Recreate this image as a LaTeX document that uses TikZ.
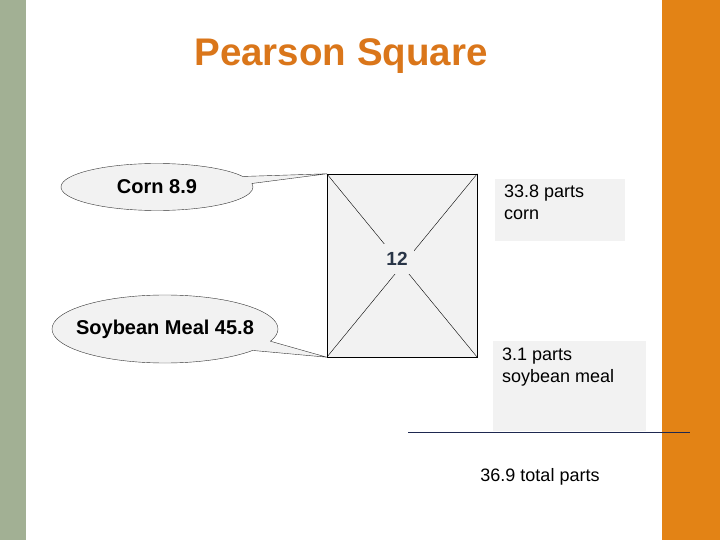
\documentclass[tikz,border=0pt]{standalone}
\usepackage{fontspec}
\setmainfont{Liberation Sans}
\usetikzlibrary{shapes.callouts}
\definecolor{sage}{RGB}{162,176,148}
\definecolor{pumpkin}{RGB}{227,131,21}
\definecolor{titleorange}{RGB}{218,118,26}
\definecolor{paper}{RGB}{242,242,242}
\definecolor{slate}{RGB}{40,52,70}
\definecolor{navy}{RGB}{30,40,80}

\begin{document}
\begin{tikzpicture}[x=1pt,y=-1pt,
  bubble/.style={ellipse callout, draw=black!80, thin, fill=paper, inner sep=0pt,
    callout pointer arc=18},
  bubbletext/.style={inner sep=0pt, font=\fontsize{20}{22}\selectfont\bfseries},
  notetext/.style={anchor=north west, align=left, inner sep=0pt,
    font=\fontsize{18}{22}\selectfont}]

\useasboundingbox (0,0) rectangle (720,540);
\fill[white] (0,0) rectangle (720,540);

% side strips
\fill[sage] (0,0) rectangle (26,540);
\fill[pumpkin] (662,0) rectangle (720,540);

\node[titleorange, font=\fontsize{38.5}{40}\selectfont\bfseries] (title) at (341,56) {Pearson Square};

% the square
\node[draw=black, thin, fill=paper, minimum width=150, minimum height=183, inner sep=0pt] (sq) at (402,265.5) {};
\draw[thin] (sq.north west)--(sq.south east) (sq.north east)--(sq.south west);
\node[fill=paper, inner xsep=6pt, inner ysep=8pt, text=slate, font=\fontsize{19}{20}\selectfont\bfseries] (mid) at (397,259) {12};

% callouts
\node[bubble, minimum width=192, minimum height=47, callout absolute pointer={(sq.north west)}] (corn) at (157,187) {};
\node[bubbletext] (corntext) at (corn.center) {Corn 8.9};
\node[bubble, minimum width=226, minimum height=68, callout absolute pointer={(sq.south west)}] (soy) at (165,329) {};
\node[bubbletext] (soytext) at (soy.center) {Soybean Meal 45.8};

% results
\fill[paper] (495,179) rectangle (625,241);
\node[notetext] (cornparts) at (504,185) {33.8 parts\\corn};
\fill[paper] (493,341) rectangle (646,431);
\node[notetext] (soyparts) at (502,348) {3.1 parts\\soybean meal};

\coordinate (l0) at (408,432);
\coordinate (l1) at (690,432);
\draw[navy, thin] (l0)--(l1);

\node[font=\fontsize{18}{20}\selectfont] (total) at (540,477) {36.9 total parts};
\end{tikzpicture}
\end{document}
